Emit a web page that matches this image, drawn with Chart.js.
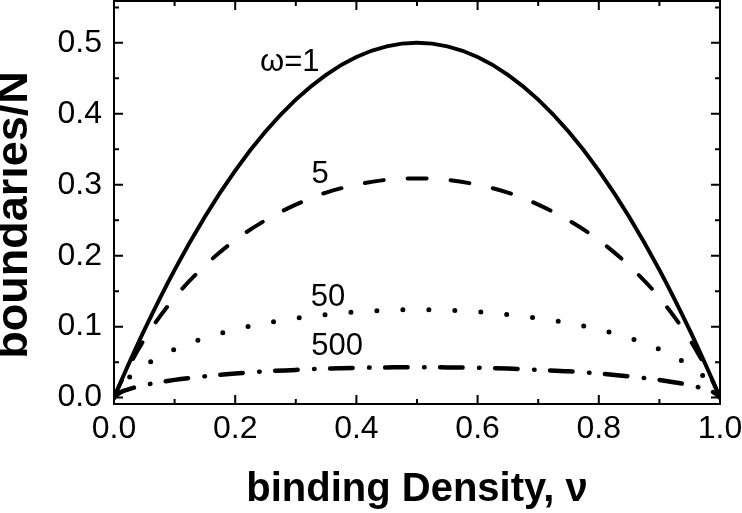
<!DOCTYPE html>
<html lang="en">
<head>
  <meta charset="UTF-8"/>
  <title>boundaries vs binding density</title>
  <script src="https://cdn.jsdelivr.net/npm/chart.js"></script>
  <style>
    body {
      margin: 0;
      background: #fff;
    }
    #wrap {
      width: 742px;
      height: 513px;
    }
  </style>
</head>
<body>
  <div id="wrap"><canvas id="boundChart"></canvas></div>

  <script>
    // binding density (x)
    const nu = [0, 0.01, 0.02, 0.05, 0.1, 0.15, 0.2, 0.25, 0.3, 0.35, 0.4, 0.45, 0.5,
                0.55, 0.6, 0.65, 0.7, 0.75, 0.8, 0.85, 0.9, 0.95, 0.98, 0.99, 1];

    // boundaries/N for each cooperativity
    const omega1 = [0, 0.0198, 0.0392, 0.095, 0.18, 0.255, 0.32, 0.375, 0.42, 0.455, 0.48, 0.495, 0.5,
                    0.495, 0.48, 0.455, 0.42, 0.375, 0.32, 0.255, 0.18, 0.095, 0.0392, 0.0198, 0];
    const omega5 = [0, 0.019, 0.0365, 0.082, 0.141, 0.186, 0.222, 0.25, 0.272, 0.289, 0.3, 0.307, 0.309,
                    0.307, 0.3, 0.289, 0.272, 0.25, 0.222, 0.186, 0.141, 0.082, 0.0365, 0.019, 0];
    const omega50 = [0, 0.0146, 0.0245, 0.045, 0.068, 0.084, 0.096, 0.105, 0.112, 0.117, 0.121, 0.123, 0.124,
                     0.123, 0.121, 0.117, 0.112, 0.105, 0.096, 0.084, 0.068, 0.045, 0.0245, 0.0146, 0];
    const omega500 = [0, 0.007, 0.0107, 0.0176, 0.025, 0.03, 0.034, 0.037, 0.039, 0.041, 0.042, 0.0426, 0.043,
                      0.0426, 0.042, 0.041, 0.039, 0.037, 0.034, 0.03, 0.025, 0.0176, 0.0107, 0.007, 0];

    // curve labels (text, nu, value)
    const curveLabels = ['\u03c9=1', '5', '50', '500'];
    const labelNu = [0.29, 0.34, 0.353, 0.368];
    const labelVal = [0.472, 0.314, 0.141, 0.072];

    const FONT = "'Liberation Sans', Arial, sans-serif";

    function pts(vals) {
      return nu.map((x, i) => ({ x: x, y: vals[i] }));
    }

    function curve(vals, dash, width) {
      return {
        data: pts(vals),
        showLine: true,
        borderColor: '#000',
        borderWidth: width,
        borderDash: dash,
        borderCapStyle: 'round',
        pointRadius: 0,
        cubicInterpolationMode: 'monotone',
        fill: false
      };
    }

    // frame with inward ticks on all four sides + curve labels
    const framePlugin = {
      id: 'frame',
      afterDatasetsDraw(chart) {
        const { ctx, chartArea: a, scales: { x, y } } = chart;
        ctx.save();
        ctx.strokeStyle = '#000';
        ctx.lineWidth = 2;
        ctx.strokeRect(a.left, a.top, a.right - a.left, a.bottom - a.top);
        ctx.beginPath();
        for (let i = 0; i <= 10; i++) {
          const px = x.getPixelForValue(i / 10);
          const len = i % 2 === 0 ? 9 : 5;
          ctx.moveTo(px, a.bottom); ctx.lineTo(px, a.bottom - len);
          ctx.moveTo(px, a.top); ctx.lineTo(px, a.top + len);
        }
        for (let i = 0; i <= 11; i++) {
          const py = y.getPixelForValue(i * 0.05);
          const len = i % 2 === 0 ? 9 : 5;
          ctx.moveTo(a.left, py); ctx.lineTo(a.left + len, py);
          ctx.moveTo(a.right, py); ctx.lineTo(a.right - len, py);
        }
        ctx.stroke();

        ctx.fillStyle = '#000';
        ctx.font = '31px ' + FONT;
        ctx.textAlign = 'center';
        ctx.textBaseline = 'middle';
        curveLabels.forEach((t, i) => {
          ctx.fillText(t, x.getPixelForValue(labelNu[i]), y.getPixelForValue(labelVal[i]));
        });
        ctx.restore();
      }
    };

    const config = {
      type: 'scatter',
      data: {
        datasets: [
          curve(omega1, [], 4),
          curve(omega5, [19, 24], 4),
          curve(omega50, [0, 26], 5),
          curve(omega500, [22.5, 16.5, 0.5, 15.5], 4.5)
        ]
      },
      options: {
        responsive: true,
        maintainAspectRatio: false,
        animation: false,
        layout: { padding: { top: 1, right: 22, left: 0, bottom: 0 } },
        plugins: {
          legend: { display: false },
          tooltip: { enabled: false }
        },
        scales: {
          x: {
            type: 'linear',
            min: 0,
            max: 1,
            grid: { display: false, drawTicks: false },
            border: { display: false },
            ticks: {
              stepSize: 0.2,
              maxRotation: 0,
              autoSkip: false,
              padding: 6,
              color: '#000',
              font: { family: FONT, size: 32 },
              callback: v => v.toFixed(1)
            },
            title: {
              display: true,
              text: 'binding Density, \u03bd',
              color: '#000',
              font: { family: FONT, size: 40, weight: 'bold', lineHeight: 1 },
              padding: { top: 0, bottom: 3 }
            },
            afterFit: s => { s.height = 109; s.paddingLeft = 0; s.paddingRight = 0; }
          },
          y: {
            min: -0.009,
            max: 0.559,
            grid: { display: false, drawTicks: false },
            border: { display: false },
            ticks: {
              stepSize: 0.1,
              includeBounds: false,
              padding: 12,
              color: '#000',
              font: { family: FONT, size: 32 },
              callback: v => v.toFixed(1)
            },
            title: {
              display: true,
              text: 'boundaries/N  ',
              color: '#000',
              font: { family: FONT, size: 45, weight: 'bold', lineHeight: 0.6 },
              padding: { top: 1, bottom: 0 }
            },
            afterFit: s => { s.width = 114; s.paddingTop = 0; s.paddingBottom = 0; }
          }
        }
      },
      plugins: [framePlugin]
    };

    new Chart(document.getElementById('boundChart'), config);
  </script>
</body>
</html>
